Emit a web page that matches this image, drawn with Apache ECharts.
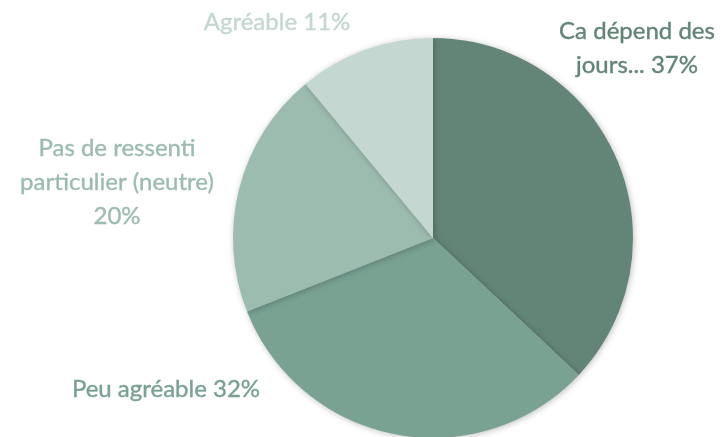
<!DOCTYPE html>
<html>
<head>
<meta charset="utf-8">
<script src="https://cdn.jsdelivr.net/npm/echarts@6/dist/echarts.min.js"></script>
<style>
  html, body { margin: 0; padding: 0; background: #fff; }
  #chart { width: 724px; height: 437px; }
</style>
</head>
<body>
<div id="chart"></div>
<script>
const categories = ['Ca dépend des\njours...', 'Peu agréable', 'Pas de ressenti\nparticulier (neutre)\n', 'Agréable']
const values = [37, 32, 20, 11]
const colors = ['#638577', '#79a293', '#9dbcb0', '#c4d7d1']

// where each label sits (x, y of its centre)
const labelSpots = [
  { x: 637, y: 48 },
  { x: 166, y: 389 },
  { x: 117, y: 182 },
  { x: 277, y: 22 },
]

const chart = echarts.init(document.getElementById('chart'))

chart.setOption({
  animation: false,
  series: [{
    type: 'pie',
    center: [433, 238],
    radius: [0, 200],
    startAngle: 90,
    clockwise: true,
    data: categories.map((c, i) => ({
      name: c,
      value: values[i],
      itemStyle: { color: colors[i] },
      label: { color: colors[i] },
    })),
    itemStyle: { shadowBlur: 6, shadowColor: 'rgba(0,0,0,0.25)', shadowOffsetX: 1, shadowOffsetY: 1 },
    label: {
      show: true,
      position: 'outside',
      fontFamily: 'Lato',
      fontSize: 24,
      lineHeight: 34,
      align: 'center',
      overflow: 'none',
      edgeDistance: 0,
      textBorderColor: 'inherit',
      textBorderWidth: 0.4,
      formatter: (p) => {
        const name = p.name
        return name.endsWith('\n') ? name + p.value + '%' : name + ' ' + p.value + '%'
      },
    },
    labelLine: { show: false },
    labelLayout: (params) => {
      const s = labelSpots[params.dataIndex]
      return { x: s.x, y: s.y, align: 'center', verticalAlign: 'middle', hideOverlap: false }
    },
  }],
})
</script>
</body>
</html>
